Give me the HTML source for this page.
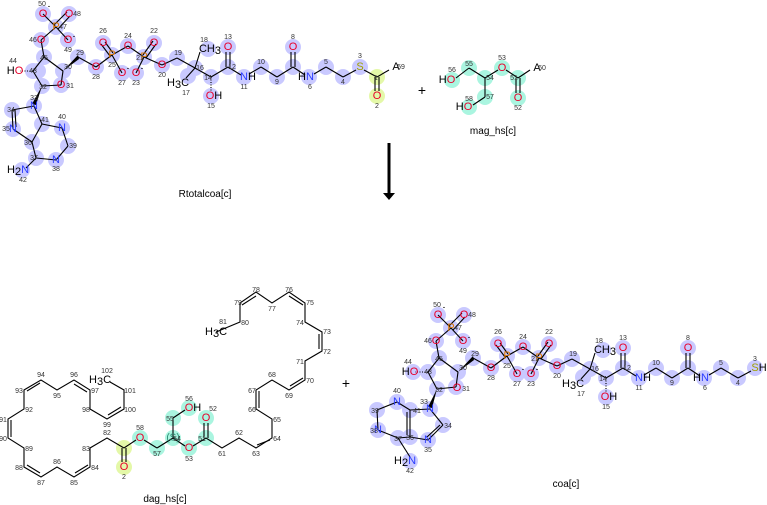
<!DOCTYPE html>
<html><head><meta charset="utf-8"><style>
html,body{margin:0;padding:0;background:#fff;}
svg{display:block;font-family:"Liberation Sans","DejaVu Sans",sans-serif;}
.n{font-size:7px;fill:#333;text-anchor:middle;}
.a{font-size:11px;text-anchor:middle;dominant-baseline:central;}
.O{fill:#e8002a}.N{fill:#2a3cff}.P{fill:#e07800}.S{fill:#a0a000}.C{fill:#000}
.h circle{fill:#c9c9ff}
.g circle{fill:#aaf5e0}
.y circle{fill:#e4f8a8}
line,polyline{stroke:#000;stroke-width:1.1;fill:none}
.lbl{font-size:10px;text-anchor:middle;fill:#000}
</style></head><body>
<svg width="767" height="505" viewBox="0 0 767 505" xmlns="http://www.w3.org/2000/svg">

<!-- ===== TOP CoA chain ===== -->
<g id="coaTop">
<g class="h">
<circle cx="43" cy="14" r="8"/><circle cx="69" cy="14" r="8"/><circle cx="56" cy="27" r="8"/><circle cx="68" cy="40" r="8"/><circle cx="41" cy="40" r="8"/><circle cx="44" cy="57" r="8"/><circle cx="33" cy="71" r="8"/><circle cx="38" cy="71" r="8"/><circle cx="63" cy="71" r="8"/><circle cx="61" cy="85" r="8"/><circle cx="42" cy="86" r="8"/><circle cx="78" cy="57" r="8"/><circle cx="96" cy="67" r="8"/><circle cx="112" cy="55" r="8"/><circle cx="103" cy="43" r="8"/><circle cx="122" cy="73" r="8"/><circle cx="128" cy="46" r="8"/><circle cx="144" cy="57" r="8"/><circle cx="154" cy="43" r="8"/><circle cx="136" cy="73" r="8"/><circle cx="162" cy="65" r="8"/><circle cx="177" cy="58" r="8"/><circle cx="195" cy="68" r="8"/><circle cx="208" cy="49" r="8"/><circle cx="188" cy="76" r="8"/><circle cx="211" cy="77" r="8"/><circle cx="211" cy="96" r="8"/><circle cx="228" cy="67" r="8"/><circle cx="228" cy="47" r="8"/><circle cx="244" cy="77" r="8"/><circle cx="261" cy="67" r="8"/><circle cx="277" cy="77" r="8"/><circle cx="293" cy="67" r="8"/><circle cx="293" cy="47" r="8"/><circle cx="309" cy="77" r="8"/><circle cx="326" cy="67" r="8"/><circle cx="343" cy="77" r="8"/><circle cx="360" cy="67" r="8"/>
<!-- adenine -->
<circle cx="34" cy="106" r="8"/><circle cx="12" cy="110" r="8"/><circle cx="13" cy="129" r="8"/><circle cx="32" cy="142" r="8"/><circle cx="42" cy="124" r="8"/><circle cx="62" cy="128" r="8"/><circle cx="68" cy="146" r="8"/><circle cx="56" cy="160" r="8"/><circle cx="36" cy="158" r="8"/><circle cx="22" cy="170" r="8"/>
</g>
<g class="y"><circle cx="377" cy="77" r="8"/><circle cx="377" cy="96" r="8"/></g>
<line x1="43" y1="14" x2="56" y2="27"/><line x1="67" y1="12" x2="54" y2="25"/><line x1="70" y1="16" x2="58" y2="29"/><line x1="56" y1="27" x2="68" y2="40"/><line x1="56" y1="27" x2="41" y2="40"/>
<line x1="41" y1="40" x2="44" y2="57"/><line x1="44" y1="57" x2="33" y2="71"/><line x1="44" y1="57" x2="63" y2="71"/><line x1="33" y1="71" x2="20" y2="71" stroke-dasharray="1,1.5" stroke-width="3"/><line x1="33" y1="71" x2="42" y2="86"/><line x1="42" y1="86" x2="61" y2="85"/><line x1="61" y1="85" x2="63" y2="71"/>
<polygon points="63,71 78,55 79,59" fill="#000"/><line x1="78" y1="57" x2="96" y2="67"/><line x1="96" y1="67" x2="112" y2="55"/><line x1="110" y1="56" x2="101" y2="44"/><line x1="113" y1="53" x2="105" y2="42"/><line x1="112" y1="55" x2="122" y2="73"/><line x1="112" y1="55" x2="128" y2="46"/><line x1="128" y1="46" x2="144" y2="57"/><line x1="143" y1="55" x2="153" y2="41"/><line x1="146" y1="58" x2="156" y2="44"/><line x1="144" y1="57" x2="136" y2="73"/><line x1="144" y1="57" x2="162" y2="65"/><line x1="162" y1="65" x2="177" y2="58"/><line x1="177" y1="58" x2="195" y2="68"/><line x1="195" y1="68" x2="200" y2="52"/><line x1="195" y1="68" x2="186" y2="78"/><line x1="195" y1="68" x2="211" y2="77"/><line x1="211" y1="77" x2="211" y2="91" stroke-dasharray="1,1.5" stroke-width="3"/><line x1="211" y1="77" x2="228" y2="67"/><line x1="226" y1="67" x2="226" y2="52"/><line x1="230" y1="67" x2="230" y2="52"/><line x1="228" y1="67" x2="241" y2="75"/><line x1="249" y1="74" x2="261" y2="67"/><line x1="261" y1="67" x2="277" y2="77"/><line x1="277" y1="77" x2="293" y2="67"/><line x1="291" y1="67" x2="291" y2="52"/><line x1="295" y1="67" x2="295" y2="52"/><line x1="293" y1="67" x2="305" y2="75"/><line x1="314" y1="74" x2="326" y2="67"/><line x1="326" y1="67" x2="343" y2="77"/><line x1="343" y1="77" x2="356" y2="70"/>
<!-- adenine bonds -->
<polygon points="42,86 32,104 36,105" fill="#000"/><line x1="34" y1="106" x2="12" y2="110"/><line x1="12" y1="110" x2="13" y2="129"/><line x1="15" y1="110" x2="16" y2="127"/><line x1="13" y1="129" x2="32" y2="142"/><line x1="32" y1="142" x2="42" y2="124"/><line x1="42" y1="124" x2="34" y2="106"/><line x1="42" y1="124" x2="62" y2="128"/><line x1="62" y1="128" x2="68" y2="146"/><line x1="68" y1="146" x2="56" y2="160"/><line x1="56" y1="160" x2="36" y2="158"/><line x1="36" y1="158" x2="32" y2="142"/><line x1="36" y1="158" x2="26" y2="168"/>
<text class="a O" x="43" y="14">O</text><text class="a O" x="69" y="14">O</text><text class="a P" x="56" y="27">P</text><text class="a O" x="68" y="40">O</text><text class="a O" x="41" y="40">O</text><text class="a O" x="15" y="71"><tspan class="C">H</tspan>O</text><text class="a O" x="61" y="85">O</text><text class="a O" x="96" y="67">O</text><text class="a P" x="112" y="55">P</text><text class="a O" x="103" y="43">O</text><text class="a O" x="122" y="73">O</text><text class="a O" x="128" y="46">O</text><text class="a P" x="144" y="57">P</text><text class="a O" x="154" y="43">O</text><text class="a O" x="136" y="73">O</text><text class="a O" x="162" y="65">O</text><text class="a C" x="210" y="49">CH<tspan dy="2">3</tspan></text><text class="a C" x="178" y="83">H<tspan dy="2">3</tspan><tspan dy="-2">C</tspan></text><text class="a O" x="214" y="96">O<tspan class="C">H</tspan></text><text class="a O" x="228" y="47">O</text><text class="a N" x="248" y="77">N<tspan class="C">H</tspan></text><text class="a O" x="293" y="47">O</text><text class="a N" x="306" y="77"><tspan class="C">H</tspan>N</text>
<text class="a N" x="34" y="106">N</text><text class="a N" x="13" y="129">N</text><text class="a N" x="62" y="128">N</text><text class="a N" x="56" y="160">N</text><text class="a N" x="18" y="170"><tspan class="C">H</tspan><tspan class="C" dy="2">2</tspan><tspan dy="-2">N</tspan></text>
<text class="a" style="font-size:8px" x="49" y="6">-</text><text class="a" style="font-size:8px" x="74" y="36">-</text><text class="a" style="font-size:8px" x="128" y="68">-</text><text class="a" style="font-size:8px" x="142" y="68">-</text>
<text class="n" x="42" y="6">50</text><text class="n" x="77" y="16">48</text><text class="n" x="63" y="29">47</text><text class="n" x="68" y="52">49</text><text class="n" x="33" y="42">46</text><text class="n" x="44" y="60">45</text><text class="n" x="33" y="73">43</text><text class="n" x="13" y="63">44</text><text class="n" x="68" y="69">30</text><text class="n" x="70" y="88">31</text><text class="n" x="43" y="89">32</text><text class="n" x="80" y="55">29</text><text class="n" x="96" y="79">28</text><text class="n" x="112" y="67">25</text><text class="n" x="103" y="33">26</text><text class="n" x="122" y="85">27</text><text class="n" x="128" y="38">24</text><text class="n" x="140" y="60">21</text><text class="n" x="154" y="33">22</text><text class="n" x="136" y="85">23</text><text class="n" x="162" y="77">20</text><text class="n" x="178" y="55">19</text><text class="n" x="200" y="70">16</text><text class="n" x="204" y="42">18</text><text class="n" x="186" y="95">17</text><text class="n" x="208" y="80">14</text><text class="n" x="211" y="108">15</text><text class="n" x="232" y="69">12</text><text class="n" x="228" y="39">13</text><text class="n" x="244" y="89">11</text><text class="n" x="261" y="64">10</text><text class="n" x="277" y="84">9</text><text class="n" x="293" y="39">8</text><text class="n" x="310" y="89">6</text><text class="n" x="326" y="64">5</text><text class="n" x="343" y="84">4</text><text class="n" x="360" y="58">3</text>
<text class="n" x="34" y="100">33</text><text class="n" x="11" y="112">34</text><text class="n" x="6" y="131">35</text><text class="n" x="28" y="145">36</text><text class="n" x="45" y="122">41</text><text class="n" x="62" y="119">40</text><text class="n" x="73" y="148">39</text><text class="n" x="56" y="171">38</text><text class="n" x="34" y="160">37</text><text class="n" x="23" y="182">42</text>
</g>
<text class="a S" x="360" y="67">S</text>
<line x1="364" y1="70" x2="377" y2="77"/><line x1="375" y1="77" x2="375" y2="91"/><line x1="379" y1="77" x2="379" y2="91"/><line x1="377" y1="77" x2="389" y2="70"/>
<text class="a O" x="377" y="96">O</text><text class="a C" x="396" y="67">A</text><text class="n" x="401" y="69">59</text><text class="n" x="377" y="108">2</text><text class="n" x="376" y="80">1</text>
<text class="lbl" x="205" y="197">Rtotalcoa[c]</text>
<text x="422" y="95" style="font-size:14px;text-anchor:middle">+</text>

<!-- mag_hs -->
<g class="g"><circle cx="452" cy="80" r="8"/><circle cx="469" cy="68" r="8"/><circle cx="485" cy="78" r="8"/><circle cx="485" cy="97" r="8"/><circle cx="469" cy="107" r="8"/><circle cx="502" cy="68" r="8"/><circle cx="518" cy="78" r="8"/><circle cx="518" cy="98" r="8"/></g>
<line x1="456" y1="78" x2="469" y2="68"/><line x1="469" y1="68" x2="485" y2="78"/><line x1="485" y1="78" x2="485" y2="97"/><line x1="485" y1="97" x2="473" y2="105"/><line x1="485" y1="78" x2="498" y2="70"/><line x1="506" y1="70" x2="518" y2="78"/><line x1="516" y1="78" x2="516" y2="93"/><line x1="520" y1="78" x2="520" y2="93"/><line x1="518" y1="78" x2="530" y2="70"/>
<text class="a O" x="447" y="80"><tspan class="C">H</tspan>O</text><text class="a O" x="464" y="107"><tspan class="C">H</tspan>O</text><text class="a O" x="502" y="68">O</text><text class="a O" x="518" y="98">O</text><text class="a C" x="537" y="68">A</text><text class="n" x="542" y="70">60</text>
<text class="n" x="452" y="72">56</text><text class="n" x="469" y="66">55</text><text class="n" x="490" y="80">54</text><text class="n" x="490" y="99">57</text><text class="n" x="469" y="101">58</text><text class="n" x="502" y="60">53</text><text class="n" x="514" y="80">51</text><text class="n" x="518" y="110">52</text>
<text class="lbl" x="493" y="134">mag_hs[c]</text>

<!-- arrow -->
<line x1="389" y1="143" x2="389" y2="194" style="stroke-width:3"/><polygon points="383,193 395,193 389,200" fill="#000"/>

<!-- ===== dag_hs ===== -->
<g class="g"><circle cx="140" cy="438" r="8"/><circle cx="157" cy="448" r="8"/><circle cx="173" cy="438" r="8"/><circle cx="173" cy="418" r="8"/><circle cx="189" cy="408" r="8"/><circle cx="189" cy="448" r="8"/><circle cx="206" cy="438" r="8"/><circle cx="206" cy="418" r="8"/></g>
<g class="y"><circle cx="124" cy="448" r="8"/><circle cx="124" cy="467" r="8"/></g>
<polyline points="216,332 240,322 240,303 256,292 272,303 289,292 305,303 305,322 322,332 322,351 305,361 305,380 289,390 272,380 256,390 256,409 272,419 272,438 256,448 239,438 222,448 206,438 193,446"/>
<line x1="242" y1="305" x2="256" y2="296"/><line x1="289" y1="296" x2="303" y2="305"/><line x1="319" y1="334" x2="319" y2="349"/><line x1="303" y1="378" x2="290" y2="386"/><line x1="259" y1="391" x2="259" y2="408"/><line x1="270" y1="440" x2="257" y2="445"/>
<line x1="204" y1="438" x2="204" y2="423"/><line x1="208" y1="438" x2="208" y2="423"/>
<line x1="185" y1="446" x2="173" y2="438"/><line x1="173" y1="438" x2="173" y2="418"/><line x1="173" y1="418" x2="185" y2="410"/><line x1="173" y1="438" x2="157" y2="448"/><line x1="157" y1="448" x2="144" y2="440"/><line x1="136" y1="440" x2="124" y2="448"/><line x1="122" y1="448" x2="122" y2="462"/><line x1="126" y1="448" x2="126" y2="462"/>
<polyline points="124,448 107,438 90,448 90,467 74,477 57,467 41,477 24,467 24,448 8,438 8,419 24,409 24,390 41,380 57,390 74,380 90,390 90,409 107,419 124,409 124,390 110,382"/>
<line x1="88" y1="465" x2="75" y2="473"/><line x1="40" y1="473" x2="27" y2="465"/><line x1="11" y1="420" x2="11" y2="437"/><line x1="27" y1="391" x2="40" y2="383"/><line x1="74" y1="384" x2="87" y2="392"/><line x1="108" y1="415" x2="121" y2="407"/>
<text class="a O" x="140" y="438">O</text><text class="a O" x="124" y="467">O</text><text class="a O" x="189" y="448">O</text><text class="a O" x="206" y="418">O</text><text class="a O" x="193" y="408">O<tspan class="C">H</tspan></text><text class="a" x="173" y="438" style="fill:#2a8a70;font-size:10px">(S)</text>
<text class="a C" x="216" y="332">H<tspan dy="2">3</tspan><tspan dy="-2">C</tspan></text><text class="a C" x="100" y="380">H<tspan dy="2">3</tspan><tspan dy="-2">C</tspan></text>
<text class="n" x="256" y="292">78</text><text class="n" x="238" y="305">79</text><text class="n" x="245" y="325">80</text><text class="n" x="223" y="324">81</text><text class="n" x="272" y="311">77</text><text class="n" x="289" y="292">76</text><text class="n" x="310" y="305">75</text><text class="n" x="300" y="325">74</text><text class="n" x="327" y="334">73</text><text class="n" x="327" y="354">72</text><text class="n" x="300" y="364">71</text><text class="n" x="310" y="383">70</text><text class="n" x="289" y="398">69</text><text class="n" x="272" y="377">68</text><text class="n" x="252" y="393">67</text><text class="n" x="252" y="412">66</text><text class="n" x="277" y="422">65</text><text class="n" x="277" y="441">64</text><text class="n" x="256" y="456">63</text><text class="n" x="239" y="435">62</text><text class="n" x="222" y="456">61</text><text class="n" x="202" y="441">51</text><text class="n" x="213" y="411">52</text><text class="n" x="189" y="461">53</text><text class="n" x="177" y="441">54</text><text class="n" x="170" y="421">55</text><text class="n" x="189" y="401">56</text><text class="n" x="157" y="456">57</text><text class="n" x="140" y="430">58</text><text class="n" x="124" y="479">2</text><text class="n" x="107" y="435">82</text><text class="n" x="86" y="451">83</text><text class="n" x="95" y="470">84</text><text class="n" x="74" y="485">85</text><text class="n" x="57" y="464">86</text><text class="n" x="41" y="485">87</text><text class="n" x="19" y="470">88</text><text class="n" x="29" y="451">89</text><text class="n" x="3" y="441">90</text><text class="n" x="3" y="422">91</text><text class="n" x="29" y="412">92</text><text class="n" x="19" y="393">93</text><text class="n" x="41" y="377">94</text><text class="n" x="57" y="398">95</text><text class="n" x="74" y="377">96</text><text class="n" x="95" y="393">97</text><text class="n" x="86" y="412">98</text><text class="n" x="107" y="427">99</text><text class="n" x="130" y="412">100</text><text class="n" x="130" y="393">101</text><text class="n" x="107" y="373">102</text>
<text class="lbl" x="165" y="502">dag_hs[c]</text>
<text x="346" y="388" style="font-size:14px;text-anchor:middle">+</text>

<!-- ===== bottom coa ===== -->
<g transform="translate(395,301)">
<g class="h">
<circle cx="43" cy="14" r="8"/><circle cx="69" cy="14" r="8"/><circle cx="56" cy="27" r="8"/><circle cx="68" cy="40" r="8"/><circle cx="41" cy="40" r="8"/><circle cx="44" cy="57" r="8"/><circle cx="33" cy="71" r="8"/><circle cx="18" cy="71" r="8"/><circle cx="63" cy="71" r="8"/><circle cx="61" cy="86" r="8"/><circle cx="42" cy="88" r="8"/><circle cx="78" cy="57" r="8"/><circle cx="96" cy="67" r="8"/><circle cx="112" cy="55" r="8"/><circle cx="103" cy="43" r="8"/><circle cx="122" cy="73" r="8"/><circle cx="128" cy="46" r="8"/><circle cx="144" cy="57" r="8"/><circle cx="154" cy="43" r="8"/><circle cx="136" cy="73" r="8"/><circle cx="162" cy="65" r="8"/><circle cx="177" cy="58" r="8"/><circle cx="195" cy="68" r="8"/><circle cx="208" cy="49" r="8"/><circle cx="188" cy="76" r="8"/><circle cx="211" cy="77" r="8"/><circle cx="211" cy="96" r="8"/><circle cx="228" cy="67" r="8"/><circle cx="228" cy="47" r="8"/><circle cx="244" cy="77" r="8"/><circle cx="261" cy="67" r="8"/><circle cx="277" cy="77" r="8"/><circle cx="293" cy="67" r="8"/><circle cx="293" cy="47" r="8"/><circle cx="309" cy="77" r="8"/><circle cx="326" cy="67" r="8"/><circle cx="343" cy="77" r="8"/><circle cx="360" cy="67" r="8"/>
<circle cx="35" cy="108" r="8"/><circle cx="48" cy="124" r="8"/><circle cx="33" cy="139" r="8"/><circle cx="15" cy="136" r="8"/><circle cx="15" cy="109" r="8"/><circle cx="2" cy="101" r="8"/><circle cx="-18" cy="109" r="8"/><circle cx="-17" cy="129" r="8"/><circle cx="3" cy="137" r="8"/><circle cx="15" cy="160" r="8"/>
</g>
<line x1="43" y1="14" x2="56" y2="27"/><line x1="67" y1="12" x2="54" y2="25"/><line x1="70" y1="16" x2="58" y2="29"/><line x1="56" y1="27" x2="68" y2="40"/><line x1="56" y1="27" x2="41" y2="40"/>
<line x1="41" y1="40" x2="44" y2="57"/><line x1="44" y1="57" x2="33" y2="71"/><line x1="44" y1="57" x2="63" y2="71"/><line x1="33" y1="71" x2="20" y2="71" stroke-dasharray="1,1.5" stroke-width="3"/><line x1="33" y1="71" x2="42" y2="88"/><line x1="42" y1="88" x2="61" y2="86"/><line x1="61" y1="86" x2="63" y2="71"/>
<polygon points="63,71 78,55 79,59" fill="#000"/><line x1="78" y1="57" x2="96" y2="67"/><line x1="96" y1="67" x2="112" y2="55"/><line x1="110" y1="56" x2="101" y2="44"/><line x1="113" y1="53" x2="105" y2="42"/><line x1="112" y1="55" x2="122" y2="73"/><line x1="112" y1="55" x2="128" y2="46"/><line x1="128" y1="46" x2="144" y2="57"/><line x1="143" y1="55" x2="153" y2="41"/><line x1="146" y1="58" x2="156" y2="44"/><line x1="144" y1="57" x2="136" y2="73"/><line x1="144" y1="57" x2="162" y2="65"/><line x1="162" y1="65" x2="177" y2="58"/><line x1="177" y1="58" x2="195" y2="68"/><line x1="195" y1="68" x2="200" y2="52"/><line x1="195" y1="68" x2="186" y2="78"/><line x1="195" y1="68" x2="211" y2="77"/><line x1="211" y1="77" x2="211" y2="91" stroke-dasharray="1,1.5" stroke-width="3"/><line x1="211" y1="77" x2="228" y2="67"/><line x1="226" y1="67" x2="226" y2="52"/><line x1="230" y1="67" x2="230" y2="52"/><line x1="228" y1="67" x2="241" y2="75"/><line x1="249" y1="74" x2="261" y2="67"/><line x1="261" y1="67" x2="277" y2="77"/><line x1="277" y1="77" x2="293" y2="67"/><line x1="291" y1="67" x2="291" y2="52"/><line x1="295" y1="67" x2="295" y2="52"/><line x1="293" y1="67" x2="305" y2="75"/><line x1="314" y1="74" x2="326" y2="67"/><line x1="326" y1="67" x2="343" y2="77"/><line x1="343" y1="77" x2="356" y2="70"/>
<polygon points="42,88 33,106 37,107" fill="#000"/><line x1="35" y1="108" x2="48" y2="124"/><line x1="48" y1="124" x2="33" y2="139"/><line x1="45" y1="124" x2="32" y2="136"/><line x1="33" y1="139" x2="15" y2="136"/><line x1="15" y1="136" x2="15" y2="109"/><line x1="12" y1="134" x2="12" y2="111"/><line x1="15" y1="109" x2="35" y2="108"/><line x1="15" y1="109" x2="2" y2="101"/><line x1="2" y1="101" x2="-18" y2="109"/><line x1="-18" y1="109" x2="-17" y2="129"/><line x1="-17" y1="129" x2="3" y2="137"/><line x1="3" y1="137" x2="15" y2="136"/><line x1="3" y1="137" x2="15" y2="156"/>
<text class="a O" x="43" y="14">O</text><text class="a O" x="69" y="14">O</text><text class="a P" x="56" y="27">P</text><text class="a O" x="68" y="40">O</text><text class="a O" x="41" y="40">O</text><text class="a O" x="15" y="71"><tspan class="C">H</tspan>O</text><text class="a O" x="62" y="87">O</text><text class="a O" x="96" y="67">O</text><text class="a P" x="112" y="55">P</text><text class="a O" x="103" y="43">O</text><text class="a O" x="122" y="73">O</text><text class="a O" x="128" y="46">O</text><text class="a P" x="144" y="57">P</text><text class="a O" x="154" y="43">O</text><text class="a O" x="136" y="73">O</text><text class="a O" x="162" y="65">O</text><text class="a C" x="210" y="49">CH<tspan dy="2">3</tspan></text><text class="a C" x="178" y="83">H<tspan dy="2">3</tspan><tspan dy="-2">C</tspan></text><text class="a O" x="214" y="96">O<tspan class="C">H</tspan></text><text class="a O" x="228" y="47">O</text><text class="a N" x="248" y="77">N<tspan class="C">H</tspan></text><text class="a O" x="293" y="47">O</text><text class="a N" x="306" y="77"><tspan class="C">H</tspan>N</text><text class="a S" x="364" y="67">S<tspan class="C">H</tspan></text>
<text class="a N" x="35" y="108">N</text><text class="a N" x="33" y="139">N</text><text class="a N" x="2" y="101">N</text><text class="a N" x="-17" y="129">N</text><text class="a N" x="10" y="160"><tspan class="C">H</tspan><tspan class="C" dy="2">2</tspan><tspan dy="-2">N</tspan></text>
<text class="a" style="font-size:8px" x="49" y="6">-</text><text class="a" style="font-size:8px" x="74" y="36">-</text><text class="a" style="font-size:8px" x="128" y="68">-</text><text class="a" style="font-size:8px" x="142" y="68">-</text>
<text class="n" x="42" y="6">50</text><text class="n" x="77" y="16">48</text><text class="n" x="63" y="29">47</text><text class="n" x="68" y="52">49</text><text class="n" x="33" y="42">46</text><text class="n" x="44" y="60">45</text><text class="n" x="33" y="73">43</text><text class="n" x="13" y="63">44</text><text class="n" x="68" y="69">30</text><text class="n" x="71" y="90">31</text><text class="n" x="44" y="91">32</text><text class="n" x="80" y="55">29</text><text class="n" x="96" y="79">28</text><text class="n" x="112" y="67">25</text><text class="n" x="103" y="33">26</text><text class="n" x="122" y="85">27</text><text class="n" x="128" y="38">24</text><text class="n" x="140" y="60">21</text><text class="n" x="154" y="33">22</text><text class="n" x="136" y="85">23</text><text class="n" x="162" y="77">20</text><text class="n" x="178" y="55">19</text><text class="n" x="200" y="70">16</text><text class="n" x="204" y="42">18</text><text class="n" x="186" y="95">17</text><text class="n" x="208" y="80">14</text><text class="n" x="211" y="108">15</text><text class="n" x="232" y="69">12</text><text class="n" x="228" y="39">13</text><text class="n" x="244" y="89">11</text><text class="n" x="261" y="64">10</text><text class="n" x="277" y="84">9</text><text class="n" x="293" y="39">8</text><text class="n" x="310" y="89">6</text><text class="n" x="326" y="64">5</text><text class="n" x="343" y="84">4</text><text class="n" x="360" y="60">3</text>
<text class="n" x="29" y="103">33</text><text class="n" x="53" y="127">34</text><text class="n" x="33" y="151">35</text><text class="n" x="15" y="139">36</text><text class="n" x="22" y="112">41</text><text class="n" x="2" y="92">40</text><text class="n" x="-20" y="112">39</text><text class="n" x="-21" y="132">38</text><text class="n" x="3" y="140">37</text><text class="n" x="15" y="172">42</text>
</g>
<text class="lbl" x="566" y="487">coa[c]</text>
</svg>
</body></html>
